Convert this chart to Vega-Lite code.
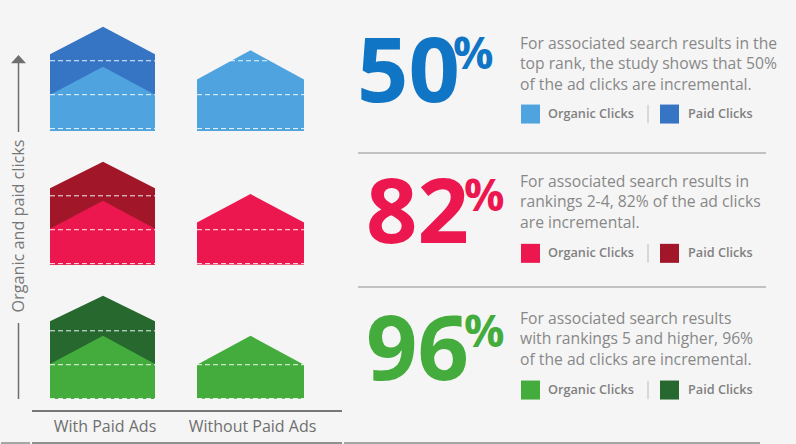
{
  "$schema": "https://vega.github.io/schema/vega-lite/v6.json",
  "background": "#f5f5f5",
  "padding": 0,
  "spacing": 0,
  "config": {
    "view": {"stroke": null},
    "text": {"font": "Open Sans"}
  },
  "datasets": {
    "houses": [
      {"rank": "top", "ads": "With Paid Ads", "series": "Paid Clicks", "x": 18, "clicks": 2.19, "base": -0.07},
      {"rank": "top", "ads": "With Paid Ads", "series": "Paid Clicks", "x": 71, "clicks": 3.0, "base": -0.07},
      {"rank": "top", "ads": "With Paid Ads", "series": "Paid Clicks", "x": 123, "clicks": 2.19, "base": -0.07},
      {"rank": "top", "ads": "With Paid Ads", "series": "Organic Clicks", "x": 18, "clicks": 1.0, "base": -0.07},
      {"rank": "top", "ads": "With Paid Ads", "series": "Organic Clicks", "x": 71, "clicks": 1.82, "base": -0.07},
      {"rank": "top", "ads": "With Paid Ads", "series": "Organic Clicks", "x": 123, "clicks": 1.0, "base": -0.07},
      {"rank": "top", "ads": "Without Paid Ads", "series": "Organic Clicks", "x": 165, "clicks": 1.45, "base": -0.07},
      {"rank": "top", "ads": "Without Paid Ads", "series": "Organic Clicks", "x": 218.5, "clicks": 2.31, "base": -0.07},
      {"rank": "top", "ads": "Without Paid Ads", "series": "Organic Clicks", "x": 272, "clicks": 1.45, "base": -0.07},
      {"rank": "mid", "ads": "With Paid Ads", "series": "Paid Clicks", "x": 18, "clicks": 2.22, "base": -0.03},
      {"rank": "mid", "ads": "With Paid Ads", "series": "Paid Clicks", "x": 71, "clicks": 3.0, "base": -0.03},
      {"rank": "mid", "ads": "With Paid Ads", "series": "Paid Clicks", "x": 123, "clicks": 2.22, "base": -0.03},
      {"rank": "mid", "ads": "With Paid Ads", "series": "Organic Clicks", "x": 18, "clicks": 1.03, "base": -0.03},
      {"rank": "mid", "ads": "With Paid Ads", "series": "Organic Clicks", "x": 71, "clicks": 1.85, "base": -0.03},
      {"rank": "mid", "ads": "With Paid Ads", "series": "Organic Clicks", "x": 123, "clicks": 1.03, "base": -0.03},
      {"rank": "mid", "ads": "Without Paid Ads", "series": "Organic Clicks", "x": 165, "clicks": 1.21, "base": -0.03},
      {"rank": "mid", "ads": "Without Paid Ads", "series": "Organic Clicks", "x": 218.5, "clicks": 2.05, "base": -0.03},
      {"rank": "mid", "ads": "Without Paid Ads", "series": "Organic Clicks", "x": 272, "clicks": 1.21, "base": -0.03},
      {"rank": "low", "ads": "With Paid Ads", "series": "Paid Clicks", "x": 18, "clicks": 2.28, "base": 0},
      {"rank": "low", "ads": "With Paid Ads", "series": "Paid Clicks", "x": 71, "clicks": 3.03, "base": 0},
      {"rank": "low", "ads": "With Paid Ads", "series": "Paid Clicks", "x": 123, "clicks": 2.28, "base": 0},
      {"rank": "low", "ads": "With Paid Ads", "series": "Organic Clicks", "x": 18, "clicks": 1.02, "base": 0},
      {"rank": "low", "ads": "With Paid Ads", "series": "Organic Clicks", "x": 71, "clicks": 1.85, "base": 0},
      {"rank": "low", "ads": "With Paid Ads", "series": "Organic Clicks", "x": 123, "clicks": 1.02, "base": 0},
      {"rank": "low", "ads": "Without Paid Ads", "series": "Organic Clicks", "x": 165, "clicks": 1.0, "base": 0},
      {"rank": "low", "ads": "Without Paid Ads", "series": "Organic Clicks", "x": 218.5, "clicks": 1.85, "base": 0},
      {"rank": "low", "ads": "Without Paid Ads", "series": "Organic Clicks", "x": 272, "clicks": 1.0, "base": 0}
    ],
    "grid": [{"clicks": 0}, {"clicks": 1}, {"clicks": 2}, {"clicks": 3}],
    "over": [
      {"rank": "top", "clicks": 0, "from": 18, "to": 123},
      {"rank": "top", "clicks": 1, "from": 18, "to": 123},
      {"rank": "top", "clicks": 2, "from": 18, "to": 123},
      {"rank": "top", "clicks": 0, "from": 165, "to": 272},
      {"rank": "top", "clicks": 1, "from": 165, "to": 272},
      {"rank": "top", "clicks": 2, "from": 198, "to": 239},
      {"rank": "mid", "clicks": 0, "from": 18, "to": 123},
      {"rank": "mid", "clicks": 1, "from": 18, "to": 123},
      {"rank": "mid", "clicks": 2, "from": 18, "to": 123},
      {"rank": "mid", "clicks": 0, "from": 165, "to": 272},
      {"rank": "mid", "clicks": 1, "from": 165, "to": 272},
      {"rank": "low", "clicks": 0, "from": 18, "to": 123},
      {"rank": "low", "clicks": 1, "from": 18, "to": 123},
      {"rank": "low", "clicks": 2, "from": 18, "to": 123},
      {"rank": "low", "clicks": 0, "from": 165, "to": 272},
      {"rank": "low", "clicks": 1, "from": 165, "to": 272}
    ],
    "notes": [
      {"rank": "top", "line": 1, "text": "For associated search results in the"},
      {"rank": "top", "line": 2, "text": "top rank, the study shows that 50%"},
      {"rank": "top", "line": 3, "text": "of the ad clicks are incremental."},
      {"rank": "mid", "line": 1, "text": "For associated search results in"},
      {"rank": "mid", "line": 2, "text": "rankings 2-4, 82% of the ad clicks"},
      {"rank": "mid", "line": 3, "text": "are incremental."},
      {"rank": "low", "line": 1, "text": "For associated search results"},
      {"rank": "low", "line": 2, "text": "with rankings 5 and higher, 96%"},
      {"rank": "low", "line": 3, "text": "of the ad clicks are incremental."}
    ],
    "stats": [
      {"rank": "top", "number": "50", "percent": "%"},
      {"rank": "mid", "number": "82", "percent": "%"},
      {"rank": "low", "number": "96", "percent": "%"}
    ],
    "organicKey": [{"series": "Organic Clicks"}],
    "paidKey": [{"series": "Paid Clicks"}],
    "adsLabels": [
      {"ads": "With Paid Ads", "x": 73},
      {"ads": "Without Paid Ads", "x": 220.5}
    ],
    "axisLabel": [{"label": "Organic and paid clicks"}]
  },
  "hconcat": [
    {
      "width": 29,
      "height": 444,
      "data": {"name": "axisLabel"},
      "encoding": {
        "x": {"datum": 17.5, "type": "quantitative", "scale": {"domain": [0, 29], "nice": false}, "axis": null},
        "y": {"datum": 226, "type": "quantitative", "scale": {"domain": [444, 0], "nice": false}, "axis": null}
      },
      "layer": [
        {
          "mark": {"type": "rule", "color": "#6f6f6f", "strokeWidth": 1.5},
          "encoding": {"y": {"datum": 399, "type": "quantitative"}, "y2": {"datum": 323}}
        },
        {
          "mark": {"type": "rule", "color": "#6f6f6f", "strokeWidth": 1.5},
          "encoding": {"y": {"datum": 132, "type": "quantitative"}, "y2": {"datum": 60}}
        },
        {
          "mark": {"type": "point", "shape": "M-1,0.55L0,-0.55L1,0.55Z", "filled": true, "color": "#6f6f6f", "size": 225, "opacity": 1},
          "encoding": {"y": {"datum": 59, "type": "quantitative"}}
        },
        {
          "mark": {"type": "text", "angle": 270, "fontSize": 16.2, "color": "#777777", "align": "center", "baseline": "middle"},
          "encoding": {"text": {"field": "label"}}
        },
        {
          "mark": {"type": "rule", "color": "#8a8a8a", "strokeWidth": 1.5},
          "encoding": {"x": {"datum": 0, "type": "quantitative"}, "x2": {"datum": 29}, "y": {"datum": 443, "type": "quantitative"}}
        }
      ]
    },
    {
      "spacing": 0,
      "vconcat": [
        {
          "width": 310,
          "height": 131,
          "encoding": {
            "x": {"field": "x", "type": "quantitative", "scale": {"domain": [0, 310], "nice": false}, "axis": null},
            "y": {"field": "clicks", "type": "quantitative", "scale": {"domain": [-0.07, 3.79], "nice": false}, "axis": null}
          },
          "layer": [
            {
              "data": {"name": "grid"},
              "mark": {"type": "rule", "color": "#cfcfcf", "strokeDash": [5, 3], "strokeWidth": 1},
              "encoding": {"x": {"datum": 4}, "x2": {"datum": 285}}
            },
            {
              "data": {"name": "houses"},
              "transform": [{"filter": "datum.rank == 'top' && datum.series == 'Paid Clicks'"}],
              "mark": {"type": "area", "color": "#3674c4", "opacity": 1},
              "encoding": {"y2": {"field": "base"}, "detail": {"field": "ads"}}
            },
            {
              "data": {"name": "houses"},
              "transform": [{"filter": "datum.rank == 'top' && datum.series == 'Organic Clicks'"}],
              "mark": {"type": "area", "color": "#4fa3df", "opacity": 1},
              "encoding": {"y2": {"field": "base"}, "detail": {"field": "ads"}}
            },
            {
              "data": {"name": "over"},
              "transform": [{"filter": "datum.rank == 'top'"}],
              "mark": {"type": "rule", "color": "#ffffff", "strokeDash": [5, 3], "strokeWidth": 1, "opacity": 0.9},
              "encoding": {"x": {"field": "from", "type": "quantitative"}, "x2": {"field": "to"}}
            }
          ]
        },
        {
          "width": 310,
          "height": 135,
          "encoding": {
            "x": {"field": "x", "type": "quantitative", "scale": {"domain": [0, 310], "nice": false}, "axis": null},
            "y": {"field": "clicks", "type": "quantitative", "scale": {"domain": [-0.07, 3.91], "nice": false}, "axis": null}
          },
          "layer": [
            {
              "data": {"name": "grid"},
              "mark": {"type": "rule", "color": "#cfcfcf", "strokeDash": [5, 3], "strokeWidth": 1},
              "encoding": {"x": {"datum": 4}, "x2": {"datum": 285}}
            },
            {
              "data": {"name": "houses"},
              "transform": [{"filter": "datum.rank == 'mid' && datum.series == 'Paid Clicks'"}],
              "mark": {"type": "area", "color": "#a11729", "opacity": 1},
              "encoding": {"y2": {"field": "base"}, "detail": {"field": "ads"}}
            },
            {
              "data": {"name": "houses"},
              "transform": [{"filter": "datum.rank == 'mid' && datum.series == 'Organic Clicks'"}],
              "mark": {"type": "area", "color": "#ed174f", "opacity": 1},
              "encoding": {"y2": {"field": "base"}, "detail": {"field": "ads"}}
            },
            {
              "data": {"name": "over"},
              "transform": [{"filter": "datum.rank == 'mid'"}],
              "mark": {"type": "rule", "color": "#ffffff", "strokeDash": [5, 3], "strokeWidth": 1, "opacity": 0.9},
              "encoding": {"x": {"field": "from", "type": "quantitative"}, "x2": {"field": "to"}}
            }
          ]
        },
        {
          "width": 310,
          "height": 135,
          "encoding": {
            "x": {"field": "x", "type": "quantitative", "scale": {"domain": [0, 310], "nice": false}, "axis": null},
            "y": {"field": "clicks", "type": "quantitative", "scale": {"domain": [-0.07, 3.91], "nice": false}, "axis": null}
          },
          "layer": [
            {
              "data": {"name": "grid"},
              "mark": {"type": "rule", "color": "#dcdcdc", "strokeDash": [5, 3], "strokeWidth": 1},
              "encoding": {"x": {"datum": 4}, "x2": {"datum": 285}}
            },
            {
              "data": {"name": "houses"},
              "transform": [{"filter": "datum.rank == 'low' && datum.series == 'Paid Clicks'"}],
              "mark": {"type": "area", "color": "#27682f", "opacity": 1},
              "encoding": {"y2": {"field": "base"}, "detail": {"field": "ads"}}
            },
            {
              "data": {"name": "houses"},
              "transform": [{"filter": "datum.rank == 'low' && datum.series == 'Organic Clicks'"}],
              "mark": {"type": "area", "color": "#43ac3c", "opacity": 1},
              "encoding": {"y2": {"field": "base"}, "detail": {"field": "ads"}}
            },
            {
              "data": {"name": "over"},
              "transform": [{"filter": "datum.rank == 'low'"}],
              "mark": {"type": "rule", "color": "#ffffff", "strokeDash": [5, 3], "strokeWidth": 1, "opacity": 0.9},
              "encoding": {"x": {"field": "from", "type": "quantitative"}, "x2": {"field": "to"}}
            }
          ]
        },
        {
          "width": 310,
          "height": 43,
          "data": {"name": "adsLabels"},
          "encoding": {
            "x": {"field": "x", "type": "quantitative", "scale": {"domain": [0, 310], "nice": false}, "axis": null},
            "y": {"datum": 26, "type": "quantitative", "scale": {"domain": [43, 0], "nice": false}, "axis": null}
          },
          "layer": [
            {
              "mark": {"type": "text", "fontSize": 16, "color": "#6f6f6f", "baseline": "middle"},
              "encoding": {"text": {"field": "ads"}}
            },
            {
              "mark": {"type": "rule", "color": "#6f6f6f", "strokeWidth": 1.5},
              "encoding": {"x": {"datum": 0, "type": "quantitative"}, "x2": {"datum": 310}, "y": {"datum": 10, "type": "quantitative"}}
            },
            {
              "mark": {"type": "rule", "color": "#8a8a8a", "strokeWidth": 1.5},
              "encoding": {"x": {"datum": 0, "type": "quantitative"}, "x2": {"datum": 310}, "y": {"datum": 42, "type": "quantitative"}}
            }
          ]
        }
      ]
    },
    {
      "spacing": 0,
      "vconcat": [
        {
          "width": 452,
          "height": 152,
          "encoding": {
            "x": {"datum": 178, "type": "quantitative", "scale": {"domain": [2, 454], "nice": false}, "axis": null}
          },
          "layer": [
            {
              "data": {"name": "stats"},
              "transform": [{"filter": "datum.rank == 'top'"}],
              "mark": {"type": "text", "fontSize": 90, "fontWeight": "bold", "color": "#0f75c4", "align": "left", "baseline": "alphabetic"},
              "encoding": {
                "x": {"datum": 15, "type": "quantitative"},
                "y": {"datum": 3.6, "type": "quantitative", "scale": {"domain": [6.05, -1.4], "nice": false}, "axis": null},
                "text": {"field": "number"}
              }
            },
            {
              "data": {"name": "stats"},
              "transform": [{"filter": "datum.rank == 'top'"}],
              "mark": {"type": "text", "fontSize": 45, "fontWeight": "bold", "color": "#0f75c4", "align": "left", "baseline": "alphabetic"},
              "encoding": {"x": {"datum": 111, "type": "quantitative"}, "y": {"datum": 1.98, "type": "quantitative"}, "text": {"field": "percent"}}
            },
            {
              "data": {"name": "notes"},
              "transform": [{"filter": "datum.rank == 'top'"}],
              "mark": {"type": "text", "fontSize": 15.7, "color": "#888888", "align": "left", "baseline": "alphabetic"},
              "encoding": {"y": {"field": "line", "type": "quantitative"}, "text": {"field": "text"}}
            },
            {
              "data": {"name": "organicKey"},
              "encoding": {"x": {"datum": 188.5, "type": "quantitative"}, "y": {"datum": 4.19, "type": "quantitative"}},
              "layer": [
                {"mark": {"type": "square", "size": 361, "color": "#4fa3df", "opacity": 1}},
                {"mark": {"type": "text", "dx": 17.5, "fontSize": 12.7, "fontWeight": 600, "color": "#808080", "align": "left", "baseline": "middle"}, "encoding": {"text": {"field": "series"}}}
              ]
            },
            {
              "data": {"name": "paidKey"},
              "encoding": {"x": {"datum": 327.5, "type": "quantitative"}, "y": {"datum": 4.19, "type": "quantitative"}},
              "layer": [
                {"mark": {"type": "square", "size": 361, "color": "#3674c4", "opacity": 1}},
                {"mark": {"type": "text", "dx": 18.5, "fontSize": 12.7, "fontWeight": 600, "color": "#808080", "align": "left", "baseline": "middle"}, "encoding": {"text": {"field": "series"}}},
                {"mark": {"type": "rule", "color": "#bbbbbb", "strokeWidth": 1}, "encoding": {"x": {"datum": 306, "type": "quantitative"}, "y": {"datum": 3.74, "type": "quantitative"}, "y2": {"datum": 4.64}}}
              ]
            }
          ]
        },
        {
          "width": 452,
          "height": 133,
          "encoding": {
            "x": {"datum": 178, "type": "quantitative", "scale": {"domain": [2, 454], "nice": false}, "axis": null}
          },
          "layer": [
            {
              "data": {"name": "stats"},
              "transform": [{"filter": "datum.rank == 'mid'"}],
              "mark": {"type": "rule", "color": "#b0b0b0", "strokeWidth": 1.5},
              "encoding": {
                "x": {"datum": 16, "type": "quantitative"},
                "x2": {"datum": 424},
                "y": {"datum": -0.667, "type": "quantitative", "scale": {"domain": [5.85, -0.667], "nice": false}, "axis": null}
              }
            },
            {
              "data": {"name": "stats"},
              "transform": [{"filter": "datum.rank == 'mid'"}],
              "mark": {"type": "text", "fontSize": 90, "fontWeight": "bold", "color": "#ed174f", "align": "left", "baseline": "alphabetic"},
              "encoding": {"x": {"datum": 24, "type": "quantitative"}, "y": {"datum": 3.745, "type": "quantitative"}, "text": {"field": "number"}}
            },
            {
              "data": {"name": "stats"},
              "transform": [{"filter": "datum.rank == 'mid'"}],
              "mark": {"type": "text", "fontSize": 45, "fontWeight": "bold", "color": "#ed174f", "align": "left", "baseline": "alphabetic"},
              "encoding": {"x": {"datum": 122, "type": "quantitative"}, "y": {"datum": 2.176, "type": "quantitative"}, "text": {"field": "percent"}}
            },
            {
              "data": {"name": "notes"},
              "transform": [{"filter": "datum.rank == 'mid'"}],
              "mark": {"type": "text", "fontSize": 15.7, "color": "#888888", "align": "left", "baseline": "alphabetic"},
              "encoding": {"y": {"field": "line", "type": "quantitative"}, "text": {"field": "text"}}
            },
            {
              "data": {"name": "organicKey"},
              "encoding": {"x": {"datum": 188.5, "type": "quantitative"}, "y": {"datum": 4.25, "type": "quantitative"}},
              "layer": [
                {"mark": {"type": "square", "size": 361, "color": "#ed174f", "opacity": 1}},
                {"mark": {"type": "text", "dx": 17.5, "fontSize": 12.7, "fontWeight": 600, "color": "#808080", "align": "left", "baseline": "middle"}, "encoding": {"text": {"field": "series"}}}
              ]
            },
            {
              "data": {"name": "paidKey"},
              "encoding": {"x": {"datum": 327.5, "type": "quantitative"}, "y": {"datum": 4.25, "type": "quantitative"}},
              "layer": [
                {"mark": {"type": "square", "size": 361, "color": "#a11729", "opacity": 1}},
                {"mark": {"type": "text", "dx": 18.5, "fontSize": 12.7, "fontWeight": 600, "color": "#808080", "align": "left", "baseline": "middle"}, "encoding": {"text": {"field": "series"}}},
                {"mark": {"type": "rule", "color": "#bbbbbb", "strokeWidth": 1}, "encoding": {"x": {"datum": 306, "type": "quantitative"}, "y": {"datum": 3.8, "type": "quantitative"}, "y2": {"datum": 4.7}}}
              ]
            }
          ]
        },
        {
          "width": 452,
          "height": 157,
          "encoding": {
            "x": {"datum": 178, "type": "quantitative", "scale": {"domain": [2, 454], "nice": false}, "axis": null}
          },
          "layer": [
            {
              "data": {"name": "stats"},
              "transform": [{"filter": "datum.rank == 'low'"}],
              "mark": {"type": "rule", "color": "#b0b0b0", "strokeWidth": 1.5},
              "encoding": {
                "x": {"datum": 16, "type": "quantitative"},
                "x2": {"datum": 424},
                "y": {"datum": -0.814, "type": "quantitative", "scale": {"domain": [6.88, -0.814], "nice": false}, "axis": null}
              }
            },
            {
              "data": {"name": "stats"},
              "transform": [{"filter": "datum.rank == 'low'"}],
              "mark": {"type": "rule", "color": "#8a8a8a", "strokeWidth": 1.5},
              "encoding": {"x": {"datum": 2, "type": "quantitative"}, "x2": {"datum": 418}, "y": {"datum": 6.83, "type": "quantitative"}}
            },
            {
              "data": {"name": "stats"},
              "transform": [{"filter": "datum.rank == 'low'"}],
              "mark": {"type": "text", "fontSize": 90, "fontWeight": "bold", "color": "#43ac3c", "align": "left", "baseline": "alphabetic"},
              "encoding": {"x": {"datum": 24, "type": "quantitative"}, "y": {"datum": 3.745, "type": "quantitative"}, "text": {"field": "number"}}
            },
            {
              "data": {"name": "stats"},
              "transform": [{"filter": "datum.rank == 'low'"}],
              "mark": {"type": "text", "fontSize": 45, "fontWeight": "bold", "color": "#43ac3c", "align": "left", "baseline": "alphabetic"},
              "encoding": {"x": {"datum": 122, "type": "quantitative"}, "y": {"datum": 2.127, "type": "quantitative"}, "text": {"field": "percent"}}
            },
            {
              "data": {"name": "notes"},
              "transform": [{"filter": "datum.rank == 'low'"}],
              "mark": {"type": "text", "fontSize": 15.7, "color": "#888888", "align": "left", "baseline": "alphabetic"},
              "encoding": {"y": {"field": "line", "type": "quantitative"}, "text": {"field": "text"}}
            },
            {
              "data": {"name": "organicKey"},
              "encoding": {"x": {"datum": 188.5, "type": "quantitative"}, "y": {"datum": 4.235, "type": "quantitative"}},
              "layer": [
                {"mark": {"type": "square", "size": 361, "color": "#43ac3c", "opacity": 1}},
                {"mark": {"type": "text", "dx": 17.5, "fontSize": 12.7, "fontWeight": 600, "color": "#808080", "align": "left", "baseline": "middle"}, "encoding": {"text": {"field": "series"}}}
              ]
            },
            {
              "data": {"name": "paidKey"},
              "encoding": {"x": {"datum": 327.5, "type": "quantitative"}, "y": {"datum": 4.235, "type": "quantitative"}},
              "layer": [
                {"mark": {"type": "square", "size": 361, "color": "#27682f", "opacity": 1}},
                {"mark": {"type": "text", "dx": 18.5, "fontSize": 12.7, "fontWeight": 600, "color": "#808080", "align": "left", "baseline": "middle"}, "encoding": {"text": {"field": "series"}}},
                {"mark": {"type": "rule", "color": "#bbbbbb", "strokeWidth": 1}, "encoding": {"x": {"datum": 306, "type": "quantitative"}, "y": {"datum": 3.79, "type": "quantitative"}, "y2": {"datum": 4.69}}}
              ]
            }
          ]
        }
      ]
    }
  ]
}
